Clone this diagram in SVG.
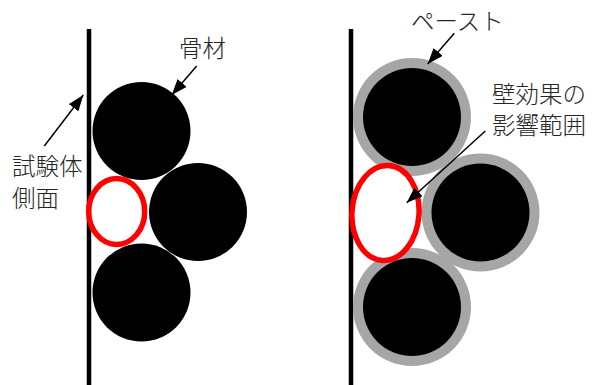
<svg xmlns="http://www.w3.org/2000/svg" width="597" height="385" viewBox="0 0 597 385">
<style>
.wall{stroke:#000;stroke-width:4.5;fill:none}
.agg{fill:#000}
.paste{fill:#a6a6a6}
.zone{fill:#fff;stroke:#ff0000;stroke-width:5.5}
.lbl{font-family:"Noto Sans CJK JP","Noto Sans CJK SC",sans-serif;font-size:23.5px;fill:#262626;font-weight:300}
.arr{stroke:#000;stroke-width:1.5;fill:none;marker-end:url(#ah)}
</style>
<defs>
<marker id="ah" markerUnits="userSpaceOnUse" viewBox="0 0 16 12" refX="16" refY="6" markerWidth="16" markerHeight="12" orient="auto">
<path d="M0,0 L16,6 L0,12 Z" fill="#000"/>
</marker>
</defs>
<rect width="597" height="385" fill="#fff"/>
<g id="left-panel">
<g id="wall-left"><line class="wall" x1="89" y1="29" x2="89" y2="385"/></g>
<g id="agg-left-top"><circle class="agg" cx="141.5" cy="131" r="49"/></g>
<g id="agg-left-right"><circle class="agg" cx="198" cy="212" r="49"/></g>
<g id="agg-left-bottom"><circle class="agg" cx="141.5" cy="292.5" r="49"/></g>
<g id="zone-left"><ellipse class="zone" cx="116.7" cy="211.5" rx="28" ry="33"/></g>
<g id="label-kotsuzai"><text class="lbl" x="179" y="57">骨材</text></g>
<g id="label-shikentai"><text class="lbl" x="12" y="174.5">試験体</text><text class="lbl" x="12" y="207">側面</text></g>
</g>
<g id="right-panel">
<g id="wall-right"><line class="wall" x1="351" y1="29" x2="351" y2="385"/></g>
<g id="agg-right-top"><circle class="paste" cx="412" cy="117" r="59"/><circle class="agg" cx="412" cy="117" r="49"/></g>
<g id="agg-right-right"><circle class="paste" cx="480.5" cy="212.5" r="59"/><circle class="agg" cx="480.5" cy="212.5" r="49"/></g>
<g id="agg-right-bottom"><circle class="paste" cx="412" cy="307" r="59"/><circle class="agg" cx="412" cy="307" r="49"/></g>
<g id="zone-right"><ellipse class="zone" cx="385.5" cy="213" rx="33.5" ry="47.5" transform="rotate(4 385.5 213)"/></g>
<g id="label-paste"><text class="lbl" x="411" y="30">ペースト</text></g>
<g id="label-wall-effect"><text class="lbl" x="492" y="103">壁効果の</text><text class="lbl" x="492" y="134">影響範囲</text></g>
</g>
<g id="connectors">
<line class="arr" x1="196.7" y1="66" x2="171.7" y2="95"/>
<line class="arr" x1="44.3" y1="146" x2="83.3" y2="95"/>
<line class="arr" x1="454.3" y1="33.3" x2="427.7" y2="64"/>
<line class="arr" x1="485.3" y1="131" x2="406.7" y2="202.7"/>
</g>
</svg>
